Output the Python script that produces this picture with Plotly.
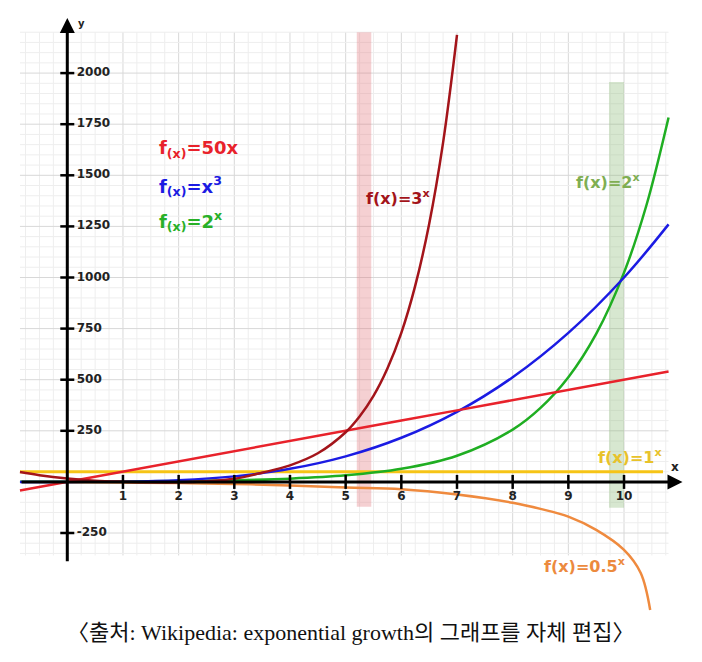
import numpy as np
import plotly.graph_objects as go

# values
red_x = [-0.85, 0, 1, 2, 3, 4, 5, 6, 7, 8, 9, 10, 10.8]
red_y = [-42, 0, 50, 100, 150, 200, 250, 300, 350, 400, 450, 500, 540]

blue_x = [-0.85, 0, 1, 2, 3, 4, 5, 6, 7, 8, 9, 10, 10.8]
blue_y = [-1, 0, 1, 8, 27, 64, 125, 216, 343, 512, 729, 1000, 1260]

green_x = [-0.85, 0, 1, 2, 3, 4, 5, 6, 7, 8, 8.5, 9, 9.5, 10, 10.4, 10.8]
green_y = [1, 1, 2, 4, 8, 16, 32, 64, 128, 256, 362, 512, 724, 1024, 1351, 1783]

dred_x = [-0.85, -0.5, 0, 0.5, 1, 1.5, 2, 2.5, 3, 3.5, 4, 4.5, 5, 5.25, 5.5,
          5.75, 6, 6.25, 6.5, 6.75, 7]
dred_y = [48, 33, 17, 6, 1, -2, -2, 3, 15, 45, 81, 140, 243, 320, 421,
          555, 729, 960, 1262, 1660, 2187]

yellow_x = [-0.85, 10.7]
yellow_y = [50, 50]

orange_x = [0, 1, 2, 3, 4, 5, 6, 7, 8, 8.5, 9, 9.5, 10, 10.3, 10.47]
orange_y = [0, -3, -6, -10, -18, -28, -36, -62, -102, -132, -170, -235, -333, -446, -627]

x_ticks = [1, 2, 3, 4, 5, 6, 7, 8, 9, 10]
y_ticks = [-250, 250, 500, 750, 1000, 1250, 1500, 1750, 2000]

caption = "〈출처: Wikipedia: exponential growth의 그래프를 자체 편집〉"

fig = go.Figure()

# grid (only over the drawing area, not the whole figure)
gx0, gx1, gy0, gy1 = -0.85, 10.8, -360, 2200
shapes = []
for v in np.arange(-0.75, 10.8, 0.25):
    major = abs(v - round(v)) < 1e-6
    shapes.append(dict(type="line", x0=v, x1=v, y0=gy0, y1=gy1, layer="below",
                       line=dict(color="#d8d8d8" if major else "#eeeeee", width=1)))
for v in np.arange(-350, 2201, 50):
    major = v % 250 == 0
    shapes.append(dict(type="line", x0=gx0, x1=gx1, y0=v, y1=v, layer="below",
                       line=dict(color="#d8d8d8" if major else "#eeeeee", width=1)))

# shaded bands
shapes.append(dict(type="rect", x0=5.2, x1=5.46, y0=-122, y1=2200, layer="below",
                   fillcolor="rgba(225,120,125,0.35)", line_width=0))
shapes.append(dict(type="rect", x0=9.73, x1=10.0, y0=-127, y1=1956, layer="below",
                   fillcolor="rgba(140,185,120,0.35)", line_width=0))

# curves
fig.add_trace(go.Scatter(x=orange_x, y=orange_y, mode="lines", line_shape="spline",
                         line=dict(color="#ef8a3e", width=2.5)))
fig.add_trace(go.Scatter(x=yellow_x, y=yellow_y, mode="lines",
                         line=dict(color="#f6c416", width=3)))
fig.add_trace(go.Scatter(x=green_x, y=green_y, mode="lines", line_shape="spline",
                         line=dict(color="#1fae22", width=2.5)))
fig.add_trace(go.Scatter(x=blue_x, y=blue_y, mode="lines", line_shape="spline",
                         line=dict(color="#1b1be3", width=2.5)))
fig.add_trace(go.Scatter(x=red_x, y=red_y, mode="lines",
                         line=dict(color="#e8222b", width=2.5)))
fig.add_trace(go.Scatter(x=dred_x, y=dred_y, mode="lines", line_shape="spline",
                         line=dict(color="#a3141a", width=2.5)))

# tick marks on the axes
fig.add_trace(go.Scatter(x=[0] * len(y_ticks), y=y_ticks, mode="markers",
                         marker=dict(symbol="line-ew", size=10, line=dict(color="black", width=2.5))))
fig.add_trace(go.Scatter(x=x_ticks, y=[0] * len(x_ticks), mode="markers",
                         marker=dict(symbol="line-ns", size=10, line=dict(color="black", width=2.5))))

# tick labels
fig.add_trace(go.Scatter(x=[0.17] * len(y_ticks), y=y_ticks, mode="text",
                         text=[str(t) for t in y_ticks], textposition="middle right",
                         textfont=dict(family="DejaVu Sans", size=12, color="#222222", weight="bold")))
fig.add_trace(go.Scatter(x=x_ticks, y=[-74] * len(x_ticks), mode="text",
                         text=[str(t) for t in x_ticks], textposition="middle center",
                         textfont=dict(family="DejaVu Sans", size=12, color="#222222", weight="bold")))

ann = []
# axis arrows
ann.append(dict(x=11.05, y=0, ax=-0.85, ay=0, axref="x", ayref="y", xref="x", yref="y",
                text="", showarrow=True, arrowhead=2, arrowsize=1, arrowwidth=3,
                arrowcolor="black", standoff=0, startstandoff=0))
ann.append(dict(x=0, y=2270, ax=0, ay=-395, axref="x", ayref="y", xref="x", yref="y",
                text="", showarrow=True, arrowhead=2, arrowsize=1, arrowwidth=3,
                arrowcolor="black", standoff=0, startstandoff=0))

bold = dict(family="DejaVu Sans", weight="bold")
def label(x, y, text, color, size, anchor="left"):
    ann.append(dict(x=x, y=y, text=text, showarrow=False, xanchor=anchor, yanchor="middle",
                    font=dict(size=size, color=color, **bold)))

label(0.15, 2245, "y", "#222222", 10)
label(10.8, 75, "x", "#222222", 12)
label(1.62, 1627, "f<sub>(x)</sub>=50x", "#e8222b", 18)
label(1.62, 1450, "f<sub>(x)</sub>=x<sup>3</sup>", "#1b1be3", 18)
label(1.62, 1278, "f<sub>(x)</sub>=2<sup>x</sup>", "#28b028", 18)
label(5.33, 1392, "f(x)=3<sup>x</sup>", "#a3141a", 16)
label(9.1, 1470, "f(x)=2<sup>x</sup>", "#7fae52", 16)
label(9.5, 122, "f(x)=1<sup>x</sup>", "#e8c22a", 16)
label(8.53, -407, "f(x)=0.5<sup>x</sup>", "#ec8a3e", 16)

ann.append(dict(x=0.5, y=0.034, xref="paper", yref="paper", text=caption, showarrow=False,
                xanchor="center", yanchor="middle",
                font=dict(family="Liberation Serif, Noto Sans CJK KR", size=22, color="#111111")))

# the page adds an 8px body margin, so the figure is 16px smaller than the window
fig.update_layout(
    width=686, height=646,
    margin=dict(l=0, r=0, t=0, b=0),
    paper_bgcolor="white", plot_bgcolor="white",
    showlegend=False,
    shapes=shapes, annotations=ann,
    xaxis=dict(range=[-1.065, 11.257], visible=False),
    yaxis=dict(range=[-842, 2318.5], visible=False),
)

fig.write_html("out.html")
